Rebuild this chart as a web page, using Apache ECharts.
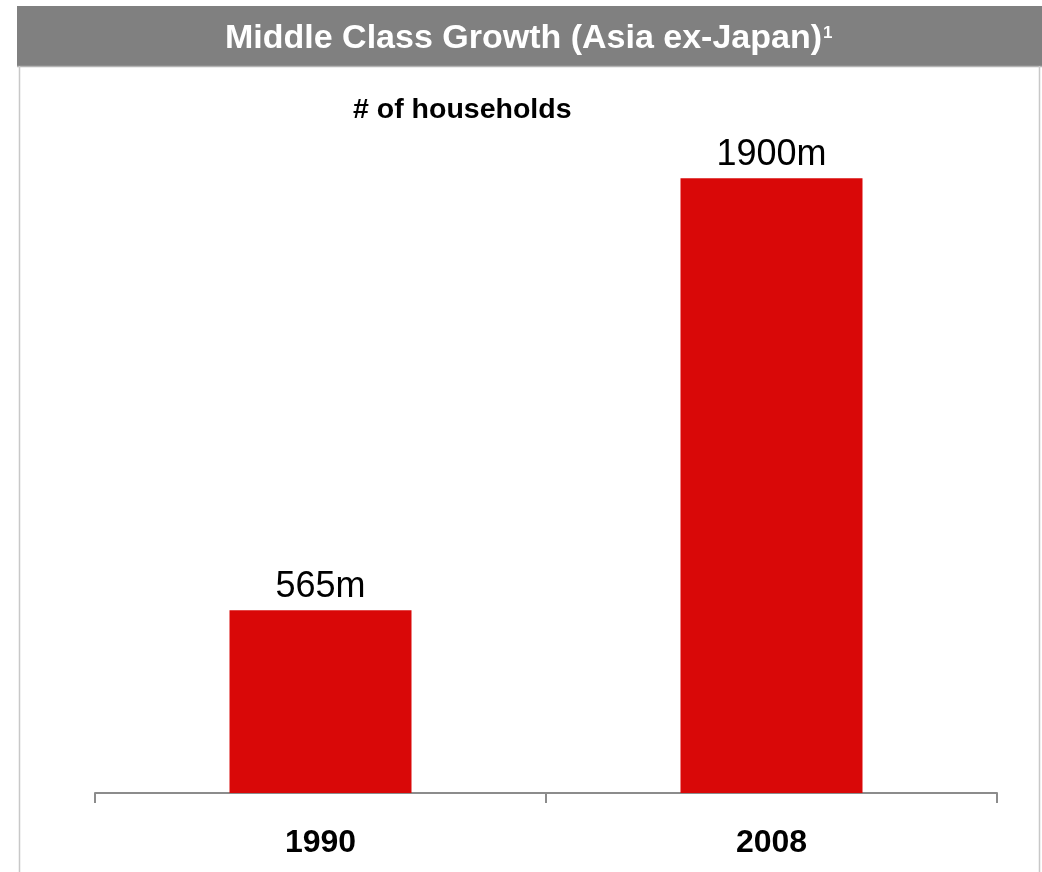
<!DOCTYPE html>
<html>
<head>
<meta charset="utf-8">
<script src="https://cdn.jsdelivr.net/npm/echarts@6/dist/echarts.min.js"></script>
<style>
  html, body { margin: 0; padding: 0; background: #ffffff; }
  #chart { width: 1042px; height: 872px; }
</style>
</head>
<body>
<div id="chart"></div>
<script>
// Middle class households, Asia ex-Japan (millions)
const years = ['1990', '2008'];
const households = [565, 1900];
const valueLabels = ['565m', '1900m'];

const FONT = 'Arial, "Liberation Sans", Helvetica, sans-serif';
const chart = echarts.init(document.getElementById('chart'), null, { renderer: 'canvas' });

chart.setOption({
  backgroundColor: '#ffffff',
  animation: false,
  grid: { left: 95, right: 45, top: 146, bottom: 79, containLabel: false },
  xAxis: {
    type: 'category',
    data: years,
    boundaryGap: true,
    axisLine: { show: true, lineStyle: { color: '#8c8c8c', width: 2 } },
    axisTick: { show: true, length: 10, lineStyle: { color: '#8c8c8c', width: 2 } },
    axisLabel: { color: '#000000', fontFamily: FONT, fontWeight: 'bold', fontSize: 32, margin: 34 }
  },
  yAxis: {
    type: 'value',
    min: 0,
    max: 2000,
    show: false,
    splitLine: { show: false }
  },
  series: [{
    type: 'bar',
    data: households,
    barWidth: 182,
    itemStyle: { color: '#d90808' },
    label: {
      show: true,
      position: 'top',
      distance: 5,
      color: '#000000',
      fontFamily: FONT,
      fontSize: 36,
      formatter: p => valueLabels[p.dataIndex]
    }
  }],
  graphic: [
    // header band
    { type: 'rect', z: 0, shape: { x: 17, y: 6, width: 1025, height: 60 }, style: { fill: '#808080' } },
    { type: 'line', z: 1, shape: { x1: 17, y1: 66.5, x2: 1042, y2: 66.5 }, style: { stroke: '#b4b4b4', lineWidth: 1.5 } },
    // panel border
    { type: 'line', z: 1, shape: { x1: 19.5, y1: 66, x2: 19.5, y2: 872 }, style: { stroke: '#c8c8c8', lineWidth: 1.5 } },
    { type: 'line', z: 1, shape: { x1: 1039.5, y1: 66, x2: 1039.5, y2: 872 }, style: { stroke: '#c8c8c8', lineWidth: 1.5 } },
    // header title with superscript note marker
    { type: 'text', z: 2, style: { x: 225, y: 56, text: 'Middle Class Growth (Asia ex-Japan)', fill: '#ffffff',
        font: 'bold 34px ' + FONT, textAlign: 'left', verticalAlign: 'bottom' } },
    { type: 'text', z: 2, style: { x: 823, y: 42, text: '1', fill: '#ffffff',
        font: 'bold 17px ' + FONT, textAlign: 'left', verticalAlign: 'bottom' } },
    // subtitle
    { type: 'text', z: 2, style: { x: 353, y: 125, text: '# of households', fill: '#000000',
        font: 'bold 28.5px ' + FONT, textAlign: 'left', verticalAlign: 'bottom' } }
  ]
});
</script>
</body>
</html>
